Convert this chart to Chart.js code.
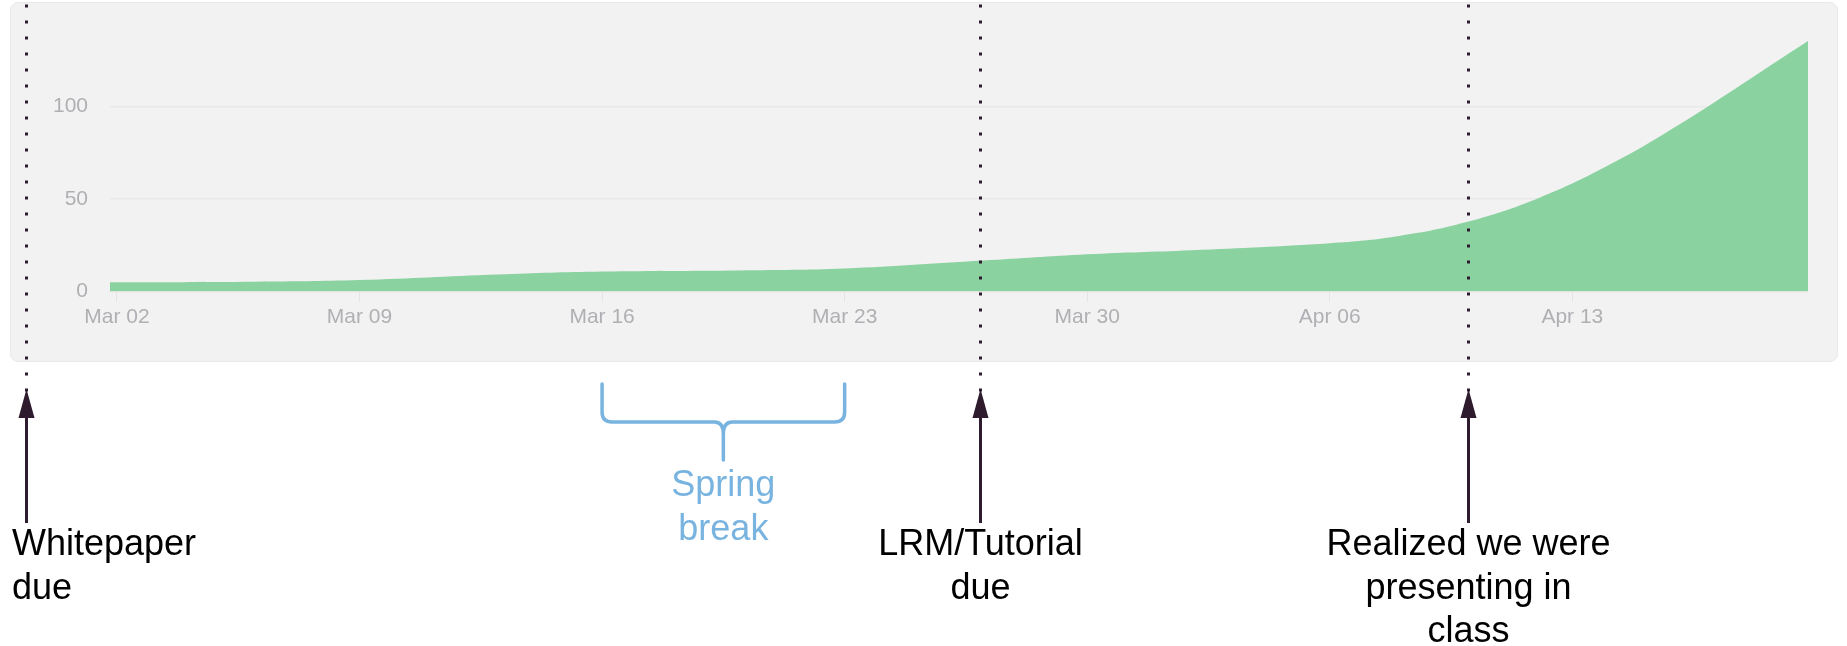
<!DOCTYPE html>
<html>
<head>
<meta charset="utf-8">
<title>Project progress</title>
<script src="https://cdn.jsdelivr.net/npm/chart.js@4.4.1/dist/chart.umd.min.js"></script>
<style>
  html, body { margin: 0; padding: 0; background: #fff; overflow: hidden; }
  #wrap { position: relative; width: 1847px; height: 646px; }
</style>
</head>
<body>
<div id="wrap"><canvas id="progressChart"></canvas></div>
<script>
// ---------------- Data (days counted from Mar 02) ----------------

const dayOffsets = [-0.2, 4, 7, 11, 14, 18, 21, 25, 28, 31, 35, 37, 39, 41, 43, 45, 48.8];
const totals     = [5.0, 5.3, 6.2, 9.2, 10.8, 11.4, 12.4, 16.7, 20.1, 22.3, 26.1, 30.0, 37.8, 50.3, 67.8, 89.3, 135.5];

const tickDays = [0, 7, 14, 21, 28, 35, 42];
const tickLabels = ['Mar 02', 'Mar 09', 'Mar 16', 'Mar 23', 'Mar 30', 'Apr 06', 'Apr 13'];
const yTicks = [0, 50, 100];

// events marked under the chart
const eventDays = [-2.62, 24.9, 38.98];
const eventLabels = [
    ['Whitepaper', 'due'],
    ['LRM/Tutorial', 'due'],
    ['Realized we were', 'presenting in', 'class']
];

const breakDays = [14, 21];
const breakLabel = ['Spring', 'break'];

const ANNOT_FONT = '36px "Liberation Sans", Arial, sans-serif';

// ---------------- Helpers ----------------

function roundRect(ctx, x, y, w, h, r) {
    ctx.beginPath();
    ctx.moveTo(x + r, y);
    ctx.arcTo(x + w, y, x + w, y + h, r);
    ctx.arcTo(x + w, y + h, x, y + h, r);
    ctx.arcTo(x, y + h, x, y, r);
    ctx.arcTo(x, y, x + w, y, r);
    ctx.closePath();
}

// grey card behind the plot
const panelPlugin = {
    id: 'panel',
    beforeDraw(chart) {
        const ctx = chart.ctx;
        ctx.save();
        ctx.fillStyle = '#ffffff';
        ctx.fillRect(0, 0, chart.width, chart.height);
        roundRect(ctx, 10.5, 2.5, 1827, 359, 8);
        ctx.fillStyle = '#f2f2f2';
        ctx.fill();
        ctx.strokeStyle = '#e9e9e9';
        ctx.lineWidth = 1;
        ctx.stroke();
        ctx.restore();
    }
};

// dotted markers, arrows, brace and notes
const notesPlugin = {
    id: 'notes',
    afterDraw(chart) {
        const ctx = chart.ctx;
        const xs = chart.scales.x;
        ctx.save();

        // Spring break brace
        const b1 = xs.getPixelForValue(breakDays[0]);
        const b2 = xs.getPixelForValue(breakDays[1]);
        const bm = (b1 + b2) / 2;
        ctx.strokeStyle = '#78b4df';
        ctx.lineWidth = 3.5;
        ctx.lineCap = 'round';
        ctx.lineJoin = 'round';
        ctx.beginPath();
        ctx.moveTo(b1, 384);
        ctx.lineTo(b1, 412);
        ctx.quadraticCurveTo(b1, 422, b1 + 10, 422);
        ctx.lineTo(bm - 9, 422);
        ctx.quadraticCurveTo(bm, 422, bm, 434);
        ctx.lineTo(bm, 460);
        ctx.moveTo(bm, 434);
        ctx.quadraticCurveTo(bm, 422, bm + 9, 422);
        ctx.lineTo(b2 - 10, 422);
        ctx.quadraticCurveTo(b2, 422, b2, 412);
        ctx.lineTo(b2, 384);
        ctx.stroke();

        ctx.font = ANNOT_FONT;
        ctx.fillStyle = '#78b4df';
        ctx.textAlign = 'center';
        ctx.textBaseline = 'alphabetic';
        breakLabel.forEach((t, i) => ctx.fillText(t, bm, 496 + i * 44));

        // Event markers
        eventDays.forEach((d, k) => {
            const x = Math.round(xs.getPixelForValue(d)) + 0.5;
            ctx.strokeStyle = '#2e1c2e';
            ctx.fillStyle = '#2e1c2e';
            ctx.lineWidth = 3;
            ctx.lineCap = 'butt';
            ctx.setLineDash([3, 13]);
            ctx.beginPath();
            ctx.moveTo(x, 4.5);
            ctx.lineTo(x, 392);
            ctx.stroke();
            ctx.setLineDash([]);

            ctx.beginPath();
            ctx.moveTo(x, 523);
            ctx.lineTo(x, 414);
            ctx.stroke();
            ctx.beginPath();
            ctx.moveTo(x, 389);
            ctx.lineTo(x - 8, 418);
            ctx.lineTo(x + 8, 418);
            ctx.closePath();
            ctx.fill();

            const lines = eventLabels[k];
            ctx.fillStyle = '#000000';
            const w = Math.max(...lines.map(l => ctx.measureText(l).width));
            if (x - w / 2 < 12) {
                ctx.textAlign = 'left';
                lines.forEach((l, i) => ctx.fillText(l, 12, 555 + i * 43.5));
            } else {
                ctx.textAlign = 'center';
                lines.forEach((l, i) => ctx.fillText(l, x, 555 + i * 43.5));
            }
        });

        ctx.restore();
    }
};

// ---------------- Chart ----------------

const points = dayOffsets.map((d, i) => ({ x: d, y: totals[i] }));

new Chart(document.getElementById('progressChart'), {
    type: 'line',
    data: {
        datasets: [{
            label: 'Progress',
            data: points,
            backgroundColor: '#8ad2a0',
            borderColor: 'rgba(0,0,0,0)',
            borderWidth: 0,
            pointRadius: 0,
            fill: 'origin',
            tension: 0.4
        }]
    },
    options: {
        responsive: true,
        maintainAspectRatio: false,
        animation: false,
        layout: { padding: { left: 0, right: 39, top: 40, bottom: 0 } },
        plugins: {
            legend: { display: false },
            tooltip: { enabled: false }
        },
        scales: {
            x: {
                type: 'linear',
                min: -0.2,
                max: 48.8,
                afterBuildTicks: s => { s.ticks = tickDays.map(v => ({ value: v })); },
                afterFit: s => { s.height = 646 - 291.5; },
                border: { display: false },
                grid: { drawOnChartArea: false, drawTicks: true, tickLength: 10, color: '#e4e4e4' },
                ticks: {
                    autoSkip: false,
                    maxRotation: 0,
                    padding: 3,
                    color: '#b0b0b4',
                    font: { family: '"Liberation Sans", Arial, sans-serif', size: 21 },
                    callback: (v, i) => tickLabels[i]
                }
            },
            y: {
                min: 0,
                max: 136,
                afterBuildTicks: s => { s.ticks = yTicks.map(v => ({ value: v })); },
                afterFit: s => { s.width = 110; },
                border: { display: false },
                grid: { drawTicks: false, color: '#e9e9e9', lineWidth: 1.5 },
                ticks: {
                    padding: 22,
                    color: '#b0b0b4',
                    font: { family: '"Liberation Sans", Arial, sans-serif', size: 21 },
                    callback: v => String(v)
                }
            }
        }
    },
    plugins: [panelPlugin, notesPlugin]
});
</script>
</body>
</html>
